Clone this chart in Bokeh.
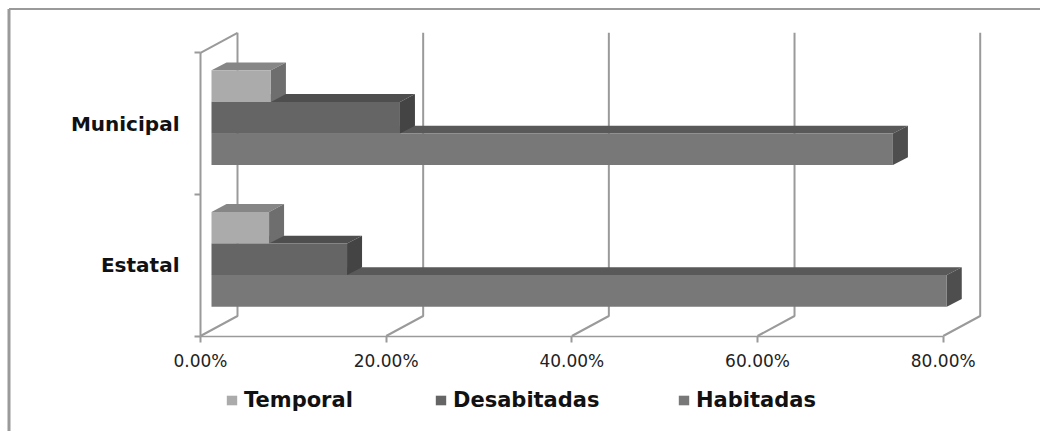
from bokeh.plotting import figure
from bokeh.models import (Range1d, FixedTicker, Legend, LegendItem)
from bokeh.embed import file_html
from bokeh.resources import INLINE

categories = ["Estatal", "Municipal"]
series = ["Habitadas", "Desabitadas", "Temporal"]
habitadas = [79.2, 73.4]
desabitadas = [14.6, 20.3]
temporal = [6.2, 6.4]
x_ticks = [0, 20, 40, 60, 80]
x_labels = ["0.00%", "20.00%", "40.00%", "60.00%", "80.00%"]

front_col = {"Habitadas": "#787878", "Desabitadas": "#656565", "Temporal": "#ababab"}
top_col = {"Habitadas": "#595959", "Desabitadas": "#4e4e4e", "Temporal": "#868686"}
side_col = {"Habitadas": "#4e4e4e", "Desabitadas": "#444444", "Temporal": "#6e6e6e"}
values = {"Habitadas": habitadas, "Desabitadas": desabitadas, "Temporal": temporal}
legend_x = {"Temporal": 225, "Desabitadas": 434, "Habitadas": 677}

GRID = "#9a9a9a"
PX_X = 742.7 / 80      # pixels per x unit
PX_Y = 141.6           # pixels per category
wall_dx, wall_dy = 37 / PX_X, 20 / PX_Y
bar_x0 = 11 / PX_X
face_dx, face_dy = 15 / PX_X, 7.8 / PX_Y
bar_base, bar_h = 29.3 / PX_Y, 31.6 / PX_Y

W, H = 1040, 431
ORIGIN_X, ORIGIN_Y = 200, 335.5
p = figure(width=W, height=H, output_backend="svg", toolbar_location=None,
           x_range=Range1d(-ORIGIN_X / PX_X, (W - ORIGIN_X) / PX_X),
           y_range=Range1d(-(H - ORIGIN_Y) / PX_Y, ORIGIN_Y / PX_Y),
           min_border=0)
p.outline_line_color = None
p.grid.visible = False
p.background_fill_color = "white"

# outer chart border (top and left edges)
edge_x = (8.5 - ORIGIN_X) / PX_X
edge_y = (ORIGIN_Y - 8.5) / PX_Y
p.line([edge_x, (W - ORIGIN_X) / PX_X], [edge_y, edge_y], line_color=GRID, line_width=2)
p.line([edge_x, edge_x], [edge_y, -(H - ORIGIN_Y) / PX_Y], line_color=GRID, line_width=3)

# 3D back-wall lines
xs, ys = [], []
for t in x_ticks:
    xs.append([t, t + wall_dx, t + wall_dx])
    ys.append([0, wall_dy, 2 + wall_dy])
p.multi_line(xs, ys, line_color=GRID, line_width=2)
p.line([0, wall_dx], [2, 2 + wall_dy], line_color=GRID, line_width=2)

# 3D bars
for c in range(len(categories)):
    for s, name in enumerate(series):
        v = values[name][c]
        x0, x1 = bar_x0, bar_x0 + v
        y0 = c + bar_base + s * bar_h
        y1 = y0 + bar_h
        p.patch([x0, x0 + face_dx, x1 + face_dx, x1],
                [y1, y1 + face_dy, y1 + face_dy, y1], fill_color=top_col[name], line_color=None)
        p.patch([x1, x1 + face_dx, x1 + face_dx, x1],
                [y0, y0 + face_dy, y1 + face_dy, y1], fill_color=side_col[name], line_color=None)
        r = p.quad(left=[x0], right=[x1], bottom=[y0], top=[y1],
                   fill_color=front_col[name], line_color=None)
        if c == 0:
            leg = Legend(items=[LegendItem(label=name, renderers=[r])],
                         location=(legend_x[name], 19), orientation="horizontal",
                         border_line_color=None, background_fill_alpha=0,
                         glyph_width=13, glyph_height=12, label_standoff=6,
                         label_text_font="DejaVu Sans", label_text_font_style="bold",
                         label_text_font_size="21px", label_text_color="#111111",
                         margin=0, padding=0)
            p.add_layout(leg, "center")

# axes
xa = p.xaxis[0]
xa.fixed_location = 0
xa.ticker = FixedTicker(ticks=x_ticks)
xa.major_label_overrides = dict(zip(x_ticks, x_labels))
xa.bounds = (0, 80)
xa.axis_line_color = GRID
xa.axis_line_width = 1.5
xa.major_tick_line_color = GRID
xa.major_tick_line_width = 2
xa.major_tick_in = 0
xa.major_tick_out = 6
xa.minor_tick_line_color = None
xa.major_label_standoff = 9
xa.major_label_text_font = "DejaVu Sans"
xa.major_label_text_font_size = "17px"
xa.major_label_text_color = "#222222"

ya = p.yaxis[0]
ya.fixed_location = 0
centers = [i + 0.5 for i in range(len(categories))]
ya.ticker = FixedTicker(ticks=centers, minor_ticks=list(range(len(categories) + 1)))
ya.major_label_overrides = dict(zip(centers, categories))
ya.bounds = (0, 2)
ya.axis_line_color = GRID
ya.axis_line_width = 2
ya.major_tick_line_color = None
ya.minor_tick_line_color = GRID
ya.minor_tick_line_width = 2
ya.minor_tick_in = 0
ya.minor_tick_out = 6
ya.major_label_standoff = 15
ya.major_label_orientation = "horizontal"
ya.major_label_text_font = "DejaVu Sans"
ya.major_label_text_font_style = "bold"
ya.major_label_text_font_size = "20px"
ya.major_label_text_color = "#111111"

open("out.html", "w").write(file_html(p, INLINE))
